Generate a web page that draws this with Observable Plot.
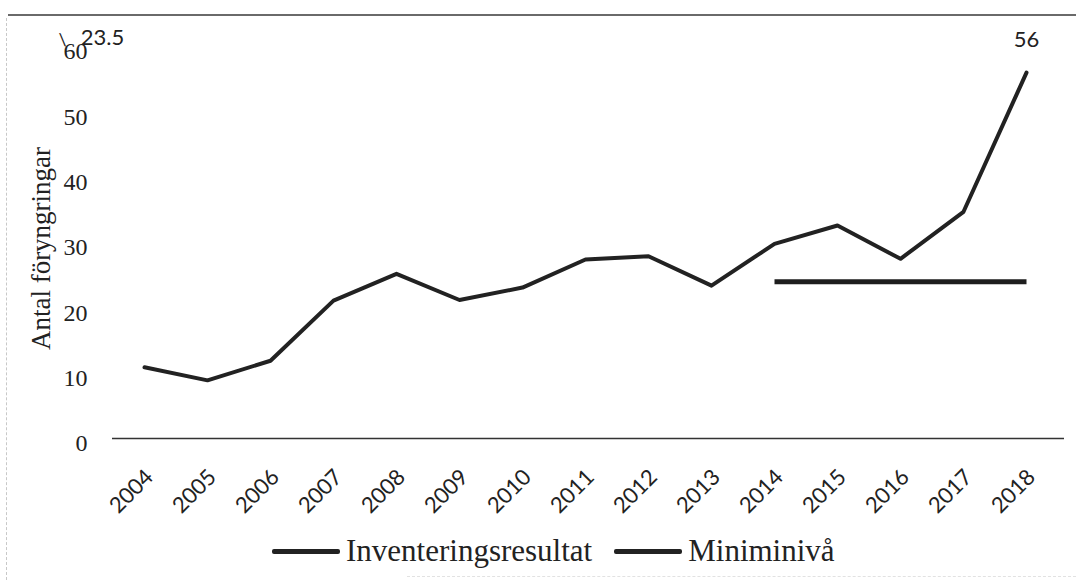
<!DOCTYPE html>
<html>
<head>
<meta charset="utf-8">
<script src="https://cdn.jsdelivr.net/npm/d3@7"></script>
<script src="https://cdn.jsdelivr.net/npm/@observablehq/plot@0.6"></script>
<style>
  html, body { margin: 0; padding: 0; background: #fff; }
  #wrap { position: relative; width: 1076px; height: 580px; overflow: hidden; background: #fff; }
  #topline { position: absolute; left: 8px; top: 14px; width: 1068px; height: 0; border-top: 2px solid #6a6a6a; }
  #leftline { position: absolute; left: 6px; top: 18px; width: 0; height: 562px; border-left: 1px dashed #c8c8c8; }
  #botline { position: absolute; left: 407px; top: 576px; width: 669px; height: 0; border-top: 1px dashed #e2e2e2; }
  #chart { position: absolute; left: 0; top: 0; }
  #legend { position: absolute; left: 272px; top: 533px; display: flex; align-items: center;
            font-family: "Liberation Serif", "Times New Roman", serif; font-size: 31px; color: #222; }
  .sw { display: inline-block; width: 68px; height: 5px; background: #222; border-radius: 2px; margin-right: 6px; }
  .item { display: flex; align-items: center; }
</style>
</head>
<body>
<div id="wrap">
  <div id="topline"></div>
  <div id="leftline"></div>
  <div id="botline"></div>
  <div id="chart"></div>
  <div id="legend"></div>
</div>
<script>
// ---- data ----
const years = [2004, 2005, 2006, 2007, 2008, 2009, 2010, 2011, 2012, 2013, 2014, 2015, 2016, 2017, 2018];
const inventeringsresultat = [10.9, 8.9, 11.9, 21.1, 25.2, 21.2, 23.1, 27.4, 27.9, 23.4, 29.8, 32.6, 27.5, 34.7, 56];
const miniminivaYears = [2014, 2015, 2016, 2017, 2018];
const miniminivaValues = [24, 24, 24, 24, 24];
const yTicks = [0, 10, 20, 30, 40, 50, 60];
const seriesNames = ["Inventeringsresultat", "Miniminivå"];
const endLabel = {year: 2018, value: 56, text: "56"};
const cornerLabel = "23.5";

// ---- tables ----
const invRows = years.map((y, i) => ({year: y, value: inventeringsresultat[i]}));
const minRows = miniminivaYears.map((y, i) => ({year: y, value: miniminivaValues[i]}));

const sans = "Lato, 'Open Sans', sans-serif";
const serif = "'Liberation Serif', 'Times New Roman', serif";

const chart = Plot.plot({
  width: 1076,
  height: 530,
  marginTop: 46,
  marginBottom: 92,
  marginLeft: 112,
  marginRight: 12,
  style: {background: "transparent", color: "#222"},
  x: {type: "point", domain: years, padding: 0, insetLeft: 30, insetRight: 36},
  y: {domain: [0, 60]},
  marks: [
    Plot.ruleY([0], {stroke: "#333", strokeWidth: 1.6}),
    Plot.axisY({ticks: yTicks, tickSize: 0, tickPadding: 25, fontSize: 24, fontFamily: serif, dy: 5, label: null}),
    Plot.axisX({tickSize: 0, tickRotate: -45, tickPadding: 35, dx: 5, fontSize: 22, fontFamily: sans, label: null, tickFormat: d => String(d)}),
    Plot.text(["Antal föryngringar"], {frameAnchor: "left", textAnchor: "middle", lineAnchor: "middle", rotate: -90, dx: -71, dy: 6, fontSize: 27, fontFamily: serif, fill: "#222", text: d => d}),
    Plot.line(minRows, {x: "year", y: "value", stroke: "#1e1e1e", strokeWidth: 5, strokeLinecap: "butt"}),
    Plot.line(invRows, {x: "year", y: "value", stroke: "#222", strokeWidth: 4, strokeLinejoin: "round", strokeLinecap: "round"}),
    Plot.text([endLabel], {x: "year", y: "value", text: "text", dy: -33, fontSize: 22, fontFamily: sans, fill: "#222"}),
    Plot.text([cornerLabel], {frameAnchor: "top-left", textAnchor: "middle", lineAnchor: "middle", text: d => d, dx: -10, dy: -9, fontSize: 22, fontFamily: sans, fill: "#222"}),
    Plot.text(["\\"], {frameAnchor: "top-left", textAnchor: "middle", lineAnchor: "middle", text: d => d, dx: -50, dy: -6, fontSize: 18, fontFamily: sans, fill: "#222"})
  ]
});
document.getElementById("chart").appendChild(chart);

const legend = document.getElementById("legend");
seriesNames.forEach((name, i) => {
  const item = document.createElement("span");
  item.className = "item";
  if (i > 0) item.style.marginLeft = "22px";
  const sw = document.createElement("span");
  sw.className = "sw";
  const label = document.createElement("span");
  label.textContent = name;
  item.appendChild(sw);
  item.appendChild(label);
  legend.appendChild(item);
});
</script>
</body>
</html>
